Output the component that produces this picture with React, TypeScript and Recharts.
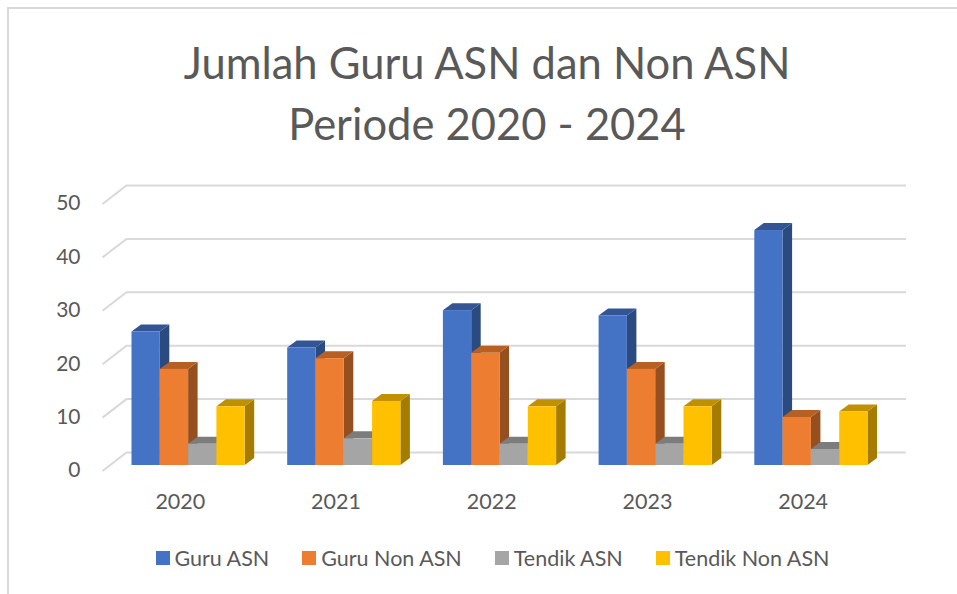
import { BarChart, Bar, XAxis, YAxis, CartesianGrid, Legend } from "recharts";

const years = ["2020", "2021", "2022", "2023", "2024"];
const guruAsn = [25, 22, 29, 28, 44];
const guruNonAsn = [18, 20, 21, 18, 9];
const tendikAsn = [4, 5, 4, 4, 3];
const tendikNonAsn = [11, 12, 11, 11, 10];
const yTicks = [0, 10, 20, 30, 40, 50];

const data = years.map((year, i) => ({
  year,
  guruAsn: guruAsn[i],
  guruNonAsn: guruNonAsn[i],
  tendikAsn: tendikAsn[i],
  tendikNonAsn: tendikNonAsn[i],
}));

const series = [
  { key: "guruAsn", name: "Guru ASN", front: "#4472C4", top: "#335593", side: "#2A4A80" },
  { key: "guruNonAsn", name: "Guru Non ASN", front: "#ED7D31", top: "#B85F24", side: "#964F1E" },
  { key: "tendikAsn", name: "Tendik ASN", front: "#A5A5A5", top: "#7C7C7C", side: "#666666" },
  { key: "tendikNonAsn", name: "Tendik Non ASN", front: "#FFC000", top: "#BF9000", side: "#A67C00" },
];

const FONT = "Lato, 'Noto Sans', sans-serif";
const TEXT = "#595959";
const DEPTH_X = 9.5;
const DEPTH_Y = 7;

// front, top and side faces of one extruded bar
function Bar3D(props: any) {
  const { x, y, width, height, front, top, side } = props;
  const right = x + width;
  const bottom = y + height;
  return (
    <g>
      <polygon
        points={`${right},${y} ${right + DEPTH_X},${y - DEPTH_Y} ${right + DEPTH_X},${bottom - DEPTH_Y} ${right},${bottom}`}
        fill={side}
      />
      <polygon
        points={`${x},${y} ${x + DEPTH_X},${y - DEPTH_Y} ${right + DEPTH_X},${y - DEPTH_Y} ${right},${y}`}
        fill={top}
      />
      <rect x={x} y={y} width={width} height={height} fill={front} />
    </g>
  );
}

// gridline on the back wall plus its diagonal on the floor side
function GridLine3D(props: any) {
  const { x1, x2, y1 } = props;
  return (
    <path
      key={`grid-${y1}`}
      d={`M${x1 - 8},${y1 + 6} L${x1 + 16},${y1 - 12.5} L${x2 + 17},${y1 - 12.5}`}
      fill="none"
      stroke="#D9D9D9"
      strokeWidth={2}
    />
  );
}

function LegendRow() {
  return (
    <div
      style={{
        height: 65,
        display: "flex",
        alignItems: "flex-end",
        justifyContent: "center",
        gap: 33,
        fontFamily: FONT,
        fontSize: 21.5,
        color: TEXT,
      }}
    >
      {series.map((s) => (
        <div key={s.key} style={{ display: "flex", alignItems: "center", gap: 5, lineHeight: "24px" }}>
          <span style={{ width: 14, height: 14, background: s.front, display: "inline-block" }} />
          <span>{s.name}</span>
        </div>
      ))}
    </div>
  );
}

export default function App() {
  return (
    <div style={{ position: "absolute", left: 0, top: 0, width: 957, height: 594, background: "#fff", overflow: "hidden" }}>
      <div
        style={{
          position: "absolute",
          left: 7,
          top: 7,
          right: 0,
          bottom: 0,
          borderTop: "2px solid #D9D9D9",
          borderLeft: "2px solid #D9D9D9",
        }}
      />
      <div
        style={{
          position: "absolute",
          left: 0,
          top: 31.5,
          width: 974,
          textAlign: "center",
          fontFamily: FONT,
          fontSize: 43.5,
          lineHeight: "61px",
          color: TEXT,
        }}
      >
        Jumlah Guru ASN dan Non ASN
        <br />
        Periode 2020 - 2024
      </div>
      <BarChart
        width={957}
        height={594}
        data={data}
        barSize={28.3}
        barGap={0}
        margin={{ top: 198, right: 68, bottom: 24, left: 80.5 }}
        style={{ position: "absolute", left: 0, top: 0 }}
      >
        <CartesianGrid vertical={false} horizontal={(p: any) => <GridLine3D {...p} />} />
        <XAxis
          dataKey="year"
          height={40}
          axisLine={false}
          tickLine={false}
          tickSize={0}
          tickMargin={29}
          tick={{ fill: TEXT, fontSize: 21.5, fontFamily: FONT, dx: -8 }}
        />
        <YAxis
          width={30}
          domain={[0, 50]}
          ticks={yTicks}
          axisLine={false}
          tickLine={false}
          tickSize={0}
          tickMargin={30}
          tick={{ fill: TEXT, fontSize: 21, fontFamily: FONT, dy: 5 }}
        />
        <Legend verticalAlign="bottom" content={<LegendRow />} wrapperStyle={{ left: 14, width: 957 }} />
        {series.map((s) => (
          <Bar
            key={s.key}
            dataKey={s.key}
            name={s.name}
            fill={s.front}
            isAnimationActive={false}
            shape={(p: any) => <Bar3D {...p} front={s.front} top={s.top} side={s.side} />}
          />
        ))}
      </BarChart>
    </div>
  );
}
